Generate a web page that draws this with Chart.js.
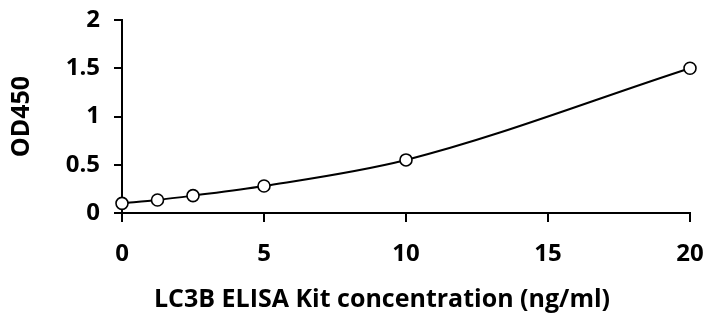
<!DOCTYPE html>
<html><head><meta charset="utf-8">
<script src="https://cdn.jsdelivr.net/npm/chart.js@4"></script>
<style>html,body{margin:0;padding:0;background:#fff}#w{width:711px;height:320px}</style>
</head><body><div id="w"><canvas id="c" width="711" height="320"></canvas></div>
<script>
const concentrations = [0, 1.25, 2.5, 5, 10, 20];
const odValues = [0.10, 0.135, 0.18, 0.28, 0.55, 1.50];
const xTicks = [0, 5, 10, 15, 20];
const yTicks = [0, 0.5, 1, 1.5, 2];
const xTitle = 'LC3B ELISA Kit concentration (ng/ml)';
const yTitle = 'OD450';

const FONT = "'Open Sans', 'Liberation Sans', sans-serif";
const pts = concentrations.map((x, i) => ({x, y: odValues[i]}));

// x-axis title, drawn a little left of the plot centre as in the reference
const xTitlePlugin = {
  id: 'xTitle',
  afterDraw(chart) {
    const {ctx, chartArea} = chart;
    ctx.save();
    ctx.font = "bold 25px " + FONT;
    ctx.fillStyle = '#000';
    ctx.textAlign = 'center';
    ctx.textBaseline = 'middle';
    const cx = (chartArea.left + chartArea.right) / 2 - 24;
    ctx.fillText(xTitle, cx, chart.height - 20);
    ctx.restore();
  }
};

new Chart(document.getElementById('c'), {
  type: 'scatter',
  data: { datasets: [{
    data: pts,
    showLine: true,
    cubicInterpolationMode: 'monotone',
    borderColor: '#000',
    borderWidth: 2,
    pointRadius: 6,
    pointBorderWidth: 1.6,
    pointBackgroundColor: '#fff',
    pointBorderColor: '#000',
    clip: false
  }]},
  plugins: [xTitlePlugin],
  options: {
    responsive: false,
    animation: false,
    layout: { padding: { left: 7, right: 21, top: 20, bottom: 4 } },
    plugins: { legend: { display: false }, tooltip: { enabled: false } },
    scales: {
      x: {
        type: 'linear', min: 0, max: 20,
        afterBuildTicks: s => { s.ticks = xTicks.map(v => ({value: v})); },
        afterFit: s => { s.height = 320 - 213 - 4; s.paddingLeft = 0; s.paddingRight = 0; },
        border: { display: true, color: '#000', width: 2 },
        grid: { drawOnChartArea: false, drawTicks: true, tickLength: 9, color: '#000', lineWidth: 2 },
        ticks: { color: '#000', font: { family: FONT, size: 24, weight: 'bold' }, padding: 18,
                 callback: v => String(v) },
        title: { display: false }
      },
      y: {
        type: 'linear', min: 0, max: 2,
        afterBuildTicks: s => { s.ticks = yTicks.map(v => ({value: v})); },
        afterFit: s => { s.width = 122 - 7; s.paddingTop = 0; s.paddingBottom = 0; },
        border: { display: true, color: '#000', width: 2 },
        grid: { drawOnChartArea: false, drawTicks: true, tickLength: 8, color: '#000', lineWidth: 2 },
        ticks: { color: '#000', font: { family: FONT, size: 24, weight: 'bold' }, padding: 14,
                 callback: v => String(v) },
        title: { display: true, text: yTitle, color: '#000',
                 font: { family: FONT, size: 25, weight: 'bold' }, padding: { top: 0, bottom: 0 } }
      }
    }
  }
});
</script></body></html>
